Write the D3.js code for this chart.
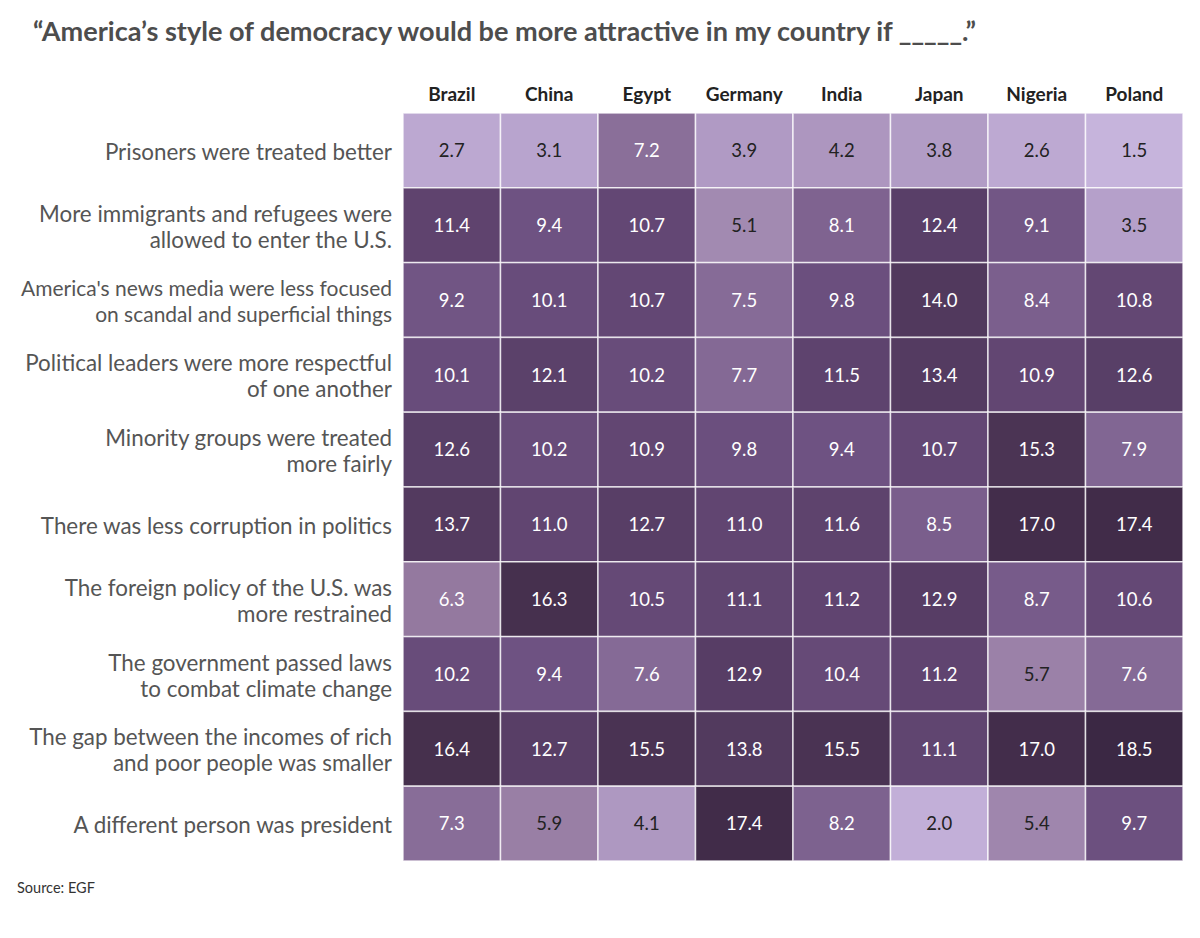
<!DOCTYPE html>
<html>
<head>
<meta charset="utf-8">
<script src="https://cdn.jsdelivr.net/npm/d3@7"></script>
<style>
  body { margin: 0; background: #fff; }
  svg { display: block; font-family: Lato, "Open Sans", sans-serif; }
</style>
</head>
<body>
<svg id="chart" width="1200" height="938"></svg>
<script>
const countries = ["Brazil", "China", "Egypt", "Germany", "India", "Japan", "Nigeria", "Poland"];
const statements = [
  ["Prisoners were treated better"],
  ["More immigrants and refugees were", "allowed to enter the U.S."],
  ["America's news media were less focused", "on scandal and superficial things"],
  ["Political leaders were more respectful", "of one another"],
  ["Minority groups were treated", "more fairly"],
  ["There was less corruption in politics"],
  ["The foreign policy of the U.S. was", "more restrained"],
  ["The government passed laws", "to combat climate change"],
  ["The gap between the incomes of rich", "and poor people was smaller"],
  ["A different person was president"]
];
const values = [
  [2.7, 3.1, 7.2, 3.9, 4.2, 3.8, 2.6, 1.5],
  [11.4, 9.4, 10.7, 5.1, 8.1, 12.4, 9.1, 3.5],
  [9.2, 10.1, 10.7, 7.5, 9.8, 14.0, 8.4, 10.8],
  [10.1, 12.1, 10.2, 7.7, 11.5, 13.4, 10.9, 12.6],
  [12.6, 10.2, 10.9, 9.8, 9.4, 10.7, 15.3, 7.9],
  [13.7, 11.0, 12.7, 11.0, 11.6, 8.5, 17.0, 17.4],
  [6.3, 16.3, 10.5, 11.1, 11.2, 12.9, 8.7, 10.6],
  [10.2, 9.4, 7.6, 12.9, 10.4, 11.2, 5.7, 7.6],
  [16.4, 12.7, 15.5, 13.8, 15.5, 11.1, 17.0, 18.5],
  [7.3, 5.9, 4.1, 17.4, 8.2, 2.0, 5.4, 9.7]
];
const titleText = "\u201cAmerica\u2019s style of democracy would be more attractive in my country if _____.\u201d";
const sourceText = "Source: EGF";

(function () {
const svg = d3.select("#chart");
const gLeft = 403, gRight = 1183, gTop = 113, gBottom = 861;

const x = d3.scaleBand().domain(countries).range([gLeft, gRight]);
const y = d3.scaleBand().domain(d3.range(statements.length)).range([gTop, gBottom]);
const color = d3.scaleLinear()
  .domain([1.5, 3.5, 6.3, 7.6, 9.4, 11, 13, 16, 18.5])
  .range(["#c6b4dc", "#b5a0ca", "#94799f", "#856a96", "#6e5282", "#614571", "#563d64", "#48314f", "#3b2844"]);

svg.append("text")
  .attr("x", 33).attr("y", 41)
  .attr("font-size", 27.1).attr("font-weight", 700).attr("fill", "#4d4d4d")
  .text(titleText);

svg.append("g").selectAll("text").data(countries).join("text")
  .attr("x", d => x(d) + x.bandwidth() / 2)
  .attr("y", 101)
  .attr("text-anchor", "middle")
  .attr("font-size", 19).attr("font-weight", 700).attr("fill", "#222")
  .text(d => d);

const cells = [];
values.forEach((row, i) => row.forEach((v, j) => cells.push({ i, c: countries[j], v })));

svg.append("g").selectAll("rect").data(cells).join("rect")
  .attr("x", d => x(d.c))
  .attr("y", d => y(d.i))
  .attr("width", x.bandwidth())
  .attr("height", y.bandwidth())
  .attr("fill", d => color(d.v))
  .attr("stroke", "#fff").attr("stroke-opacity", 0.75).attr("stroke-width", 1.5);

svg.append("g").selectAll("text").data(cells).join("text")
  .attr("x", d => x(d.c) + x.bandwidth() / 2)
  .attr("y", d => y(d.i) + y.bandwidth() / 2)
  .attr("dy", "0.37em")
  .attr("text-anchor", "middle")
  .attr("font-size", 18.5)
  .attr("fill", d => d.v >= 6 ? "#fff" : "#222")
  .text(d => d.v.toFixed(1));

const maxW = 371, baseSize = 22.4;
const labels = svg.append("g").selectAll("text").data(statements).join("text")
  .attr("text-anchor", "end")
  .attr("font-size", baseSize).attr("fill", "#555");
labels.each(function(lines, i) {
  const cy = y(i) + y.bandwidth() / 2 + 1.5;
  const lh = 26;
  const sel = d3.select(this);
  const ts = sel.selectAll("tspan").data(lines).join("tspan")
    .attr("x", 392)
    .attr("y", (d, k) => cy + (k - (lines.length - 1) / 2) * lh)
    .attr("dy", "0.36em")
    .text(d => d);
  let w = 0;
  ts.each(function() { w = Math.max(w, this.getComputedTextLength()); });
  if (w > maxW) sel.attr("font-size", baseSize * maxW / w);
});

svg.append("text")
  .attr("x", 17).attr("y", 893)
  .attr("font-size", 14.5).attr("fill", "#333")
  .text(sourceText);
})();
</script>
</body>
</html>
